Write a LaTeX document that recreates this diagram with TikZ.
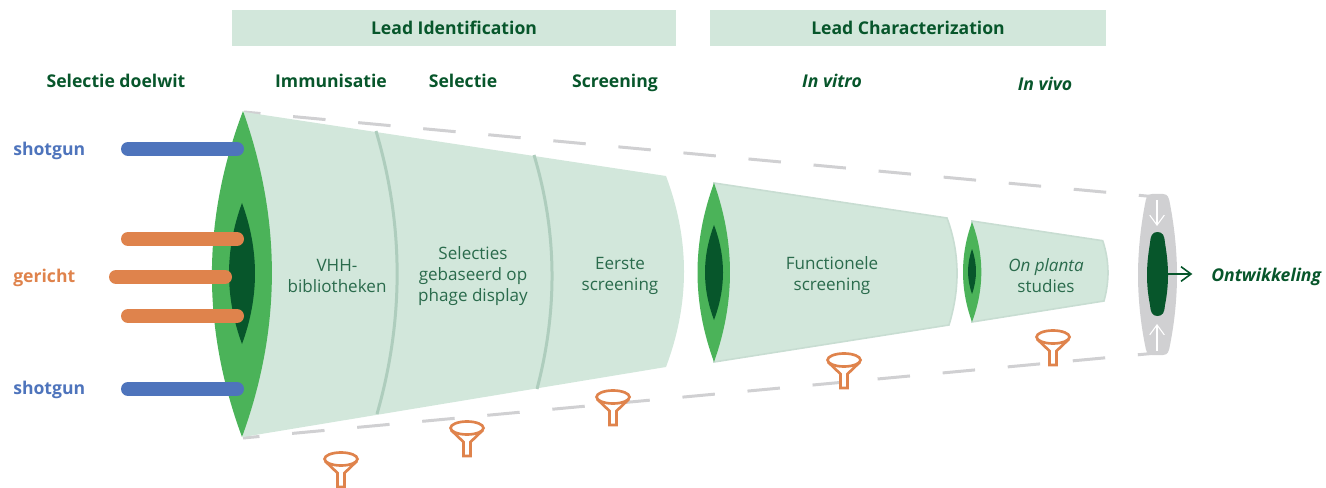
\documentclass[tikz,border=0pt]{standalone}
\usepackage{fontspec}
\setmainfont{Open Sans}
\usetikzlibrary{arrows.meta}
\definecolor{darkgreen}{HTML}{07562B}
\definecolor{lensgreen}{HTML}{4BB359}
\definecolor{palegreen}{HTML}{D2E7DB}
\definecolor{edgegreen}{HTML}{C8DDD2}
\definecolor{divgreen}{HTML}{AECDBD}
\definecolor{textgreen}{HTML}{2A6B4C}
\definecolor{shotblue}{HTML}{4E74BC}
\definecolor{hitorange}{HTML}{DF834C}
\definecolor{dashgrey}{HTML}{D0D0D2}

\begin{document}
\begin{tikzpicture}[x=0.75pt,y=-0.75pt,>={Straight Barb[length=7.5pt,width=11pt]},
	banner/.style={fill=palegreen,minimum height=27pt,inner sep=0pt,font=\bfseries\fontsize{13.2}{14}\selectfont,text=darkgreen},
	phase/.style={text height=12pt,text depth=1.5pt,font=\bfseries\fontsize{13.2}{14}\selectfont,text=darkgreen},
	phasevivo/.style={text height=12pt,text depth=1.5pt,font=\bfseries\itshape\fontsize{13.2}{14}\selectfont,text=darkgreen},
	body/.style={align=center,font=\fontsize{12.8}{15.75}\selectfont,text=textgreen},
	side/.style={anchor=west,inner sep=0pt,text height=12pt,text depth=1.5pt,font=\bfseries\fontsize{13.2}{14}\selectfont},
	bar/.style={line width=10.5pt,line cap=round},
	guide/.style={draw=dashgrey,line width=2.25pt,dash pattern=on 24.4pt off 24.6pt},
	divider/.style={draw=divgreen,line width=2.25pt},
	funnel/.pic={
		\draw[hitorange,line width=2pt,fill=white] (-16,2) -- (-3.5,14) -- (-3.5,28) -- (3.5,28) -- (3.5,14) -- (16,2);
		\draw[hitorange,line width=2pt] (0,0) ellipse [x radius=16.5,y radius=6.5];
	}]
\useasboundingbox (0,0) rectangle (1326,488);

% header
\node[banner,minimum width=333pt]	(lead_id)	at (454,28)	{Lead Identification};
\node[banner,minimum width=297pt]	(lead_char)	at (908,28)	{Lead Characterization};
\node[phase]	(doelwit)	at (116,81)	{Selectie doelwit};
\node[phase]	(immun)		at (331,81)	{Immunisatie};
\node[phase]	(selectie)	at (463,81)	{Selectie};
\node[phase]	(screen)	at (615,81)	{Screening};
\node[phasevivo]	(vitro)	at (832,81)	{In vitro};
\node[phasevivo]	(vivo)	at (1045,84)	{In vivo};

% dashed outline
\coordinate (top_a) at (244,112);
\coordinate (top_b) at (1157,197);
\coordinate (low_a) at (243,438);
\coordinate (low_b) at (1157,353);
\draw[guide,dash phase=12pt] (top_a) -- (top_b);
\draw[guide,dash phase=12pt] (low_a) -- (low_b);

% stage 1
\fill[palegreen] (244,112) -- (666,176) .. controls (690,240) and (690,303) .. (666,367) -- (243,437) -- cycle;
\draw[divider] (376,131) .. controls (404,225) and (404,320) .. (377,414);
\draw[divider] (534,155) .. controls (557.5,233) and (557.5,311) .. (537,389);
\fill[lensgreen] (243,111) .. controls (281.7,220) and (281.7,328) .. (242,437) .. controls (201.7,328) and (201.7,220) .. (243,111);
\fill[darkgreen] (242,203) .. controls (259.3,250) and (259.3,297) .. (242,344) .. controls (224.7,297) and (224.7,250) .. (242,203);

% stage 2
\filldraw[fill=palegreen,draw=edgegreen,line width=1.2pt] (714,183) -- (947,218) .. controls (960,253) and (960,289) .. (949,325) -- (714,362) -- cycle;
\fill[lensgreen] (714,183) .. controls (735.3,243) and (735.3,302) .. (714,362) .. controls (692,302) and (692,243) .. (714,183);
\fill[darkgreen] (714,225) .. controls (726,257) and (726,288) .. (714,320) .. controls (702,288) and (702,257) .. (714,225);

% stage 3
\filldraw[fill=palegreen,draw=edgegreen,line width=1.2pt] (972,221) -- (1102.7,240.7) .. controls (1109.5,261) and (1109.5,281) .. (1104,301) -- (972,322) -- cycle;
\fill[lensgreen] (972,222) .. controls (984.4,255) and (984.4,289) .. (972,322) .. controls (960,289) and (960,255) .. (972,222);
\fill[darkgreen] (972,249) .. controls (977.3,264) and (977.3,279) .. (972,294) .. controls (966.7,279) and (966.7,264) .. (972,249);

% end of the pipeline
\fill[dashgrey] (1152,194) -- (1163,194) .. controls (1168,194) and (1169,198) .. (1170,204) .. controls (1175,230) and (1177,255) .. (1177,275) .. controls (1177,295) and (1175,320) .. (1170,345) .. controls (1169,351) and (1168,355) .. (1163,355) -- (1152,355) .. controls (1147,355) and (1146,351) .. (1145,345) .. controls (1140,320) and (1138,295) .. (1138,275) .. controls (1138,255) and (1140,230) .. (1145,204) .. controls (1146,198) and (1147,194) .. (1152,194) -- cycle;
\fill[darkgreen] (1157.5,232) .. controls (1163,232) and (1164.5,236) .. (1165,243) .. controls (1167,255) and (1168,265) .. (1168,275) .. controls (1168,285) and (1167,295) .. (1165,305) .. controls (1164.5,312) and (1163,316) .. (1157.5,316) .. controls (1152,316) and (1150.5,312) .. (1150,305) .. controls (1148,295) and (1147,285) .. (1147,275) .. controls (1147,265) and (1148,255) .. (1150,243) .. controls (1150.5,236) and (1152,232) .. (1157.5,232) -- cycle;
\coordinate (in_top) at (1157,200);
\coordinate (in_top_end) at (1157,226);
\coordinate (in_low) at (1157,351);
\coordinate (in_low_end) at (1157,324);
\coordinate (out) at (1168,274);
\draw[->,white,line width=0.8pt] (in_top) -- (in_top_end);
\draw[->,white,line width=0.8pt] (in_low) -- (in_low_end);
\node[phasevivo,anchor=west,inner sep=0pt]	(ontw)	at (1211,274)	{Ontwikkeling};
\draw[->,darkgreen,line width=1.2pt] (out) -- ([xshift=-14pt] ontw.west);

% targets
\node[side,text=shotblue]	(shot_a)	at (13,149)	{shotgun};
\node[side,text=hitorange]	(gericht)	at (13,275)	{gericht};
\node[side,text=shotblue]	(shot_b)	at (13,387)	{shotgun};
\coordinate (b1a) at (128,149);
\coordinate (b1b) at (237,149);
\coordinate (b2a) at (128,239);
\coordinate (b2b) at (237,239);
\coordinate (b3a) at (116,277);
\coordinate (b3b) at (225,277);
\coordinate (b4a) at (128,316);
\coordinate (b4b) at (237,316);
\coordinate (b5a) at (128,389);
\coordinate (b5b) at (237,389);
\draw[bar,shotblue] (b1a) -- (b1b);
\draw[bar,hitorange] (b2a) -- (b2b);
\draw[bar,hitorange] (b3a) -- (b3b);
\draw[bar,hitorange] (b4a) -- (b4b);
\draw[bar,shotblue] (b5a) -- (b5b);

% texts in the stages
\node[body]	(vhh)	at (337,276)	{VHH-\\bibliotheken};
\node[body]	(phage)	at (473,276)	{Selecties\\gebaseerd op\\phage display};
\node[body]	(first)	at (620,276)	{Eerste\\screening};
\node[body]	(func)	at (832,276)	{Functionele\\screening};
\node[body]	(planta)	at (1046,276)	{\textit{On planta}\\studies};

% funnels
\pic at (341,459) {funnel};
\pic at (467,428) {funnel};
\pic at (613,397) {funnel};
\pic at (844,360) {funnel};
\pic at (1053,337) {funnel};
\end{tikzpicture}
\end{document}
